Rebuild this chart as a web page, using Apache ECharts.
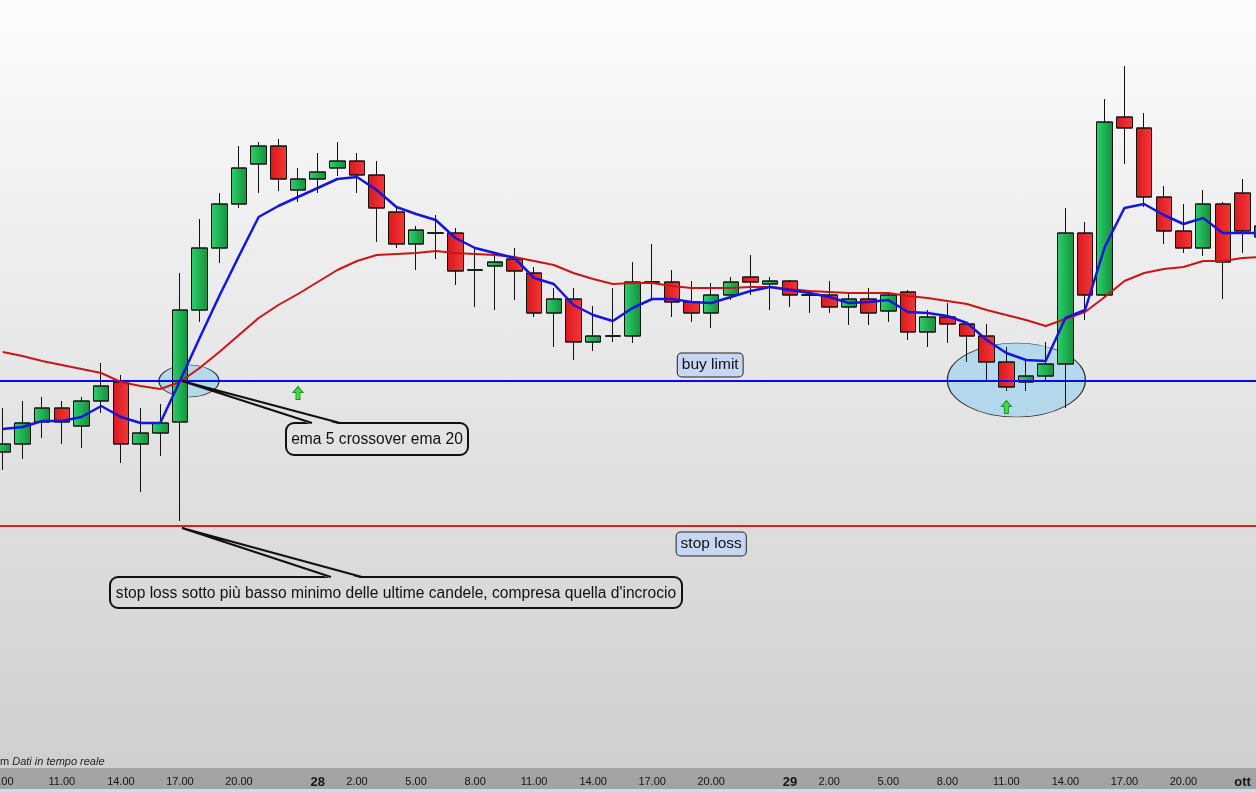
<!DOCTYPE html>
<html><head><meta charset="utf-8">
<script src="https://cdn.jsdelivr.net/npm/echarts/dist/echarts.min.js"></script>
<style>html,body{margin:0;padding:0;}#c{width:1256px;height:792px;background:linear-gradient(#fcfcfc 0px,#cfcfcf 768px);}</style>
</head><body><div id="c"></div>
<script>
// hourly candles, 27 ott 8.00 -> 30 ott 0.00 (price in points)
const categories = [];
for (let i = 0; i < 65; i++) { const t = 8 + i; categories.push((27 + Math.floor(t / 24)) + ' ' + (t % 24) + '.00'); }

const opens  = [348,356,378,392,374,399,418,356,367,378,490,552,596,636,654,610,621,632,639,625,588,556,567,567,530,534,541,527,487,501,458,464,464,518,518,498,487,505,523,516,519,505,505,493,501,489,508,468,483,476,464,438,418,424,436,567,505,683,672,603,569,552,596,607,574];
const closes = [356,377,392,378,399,414,356,367,377,490,552,596,632,654,621,621,628,639,625,592,556,570,567,529,530,538,529,487,501,458,464,464,518,518,498,487,505,518,518,519,505,505,493,501,487,505,468,483,476,464,438,413,424,436,567,505,678,672,603,569,552,596,538,569,563];
const lows   = [330,341,362,356,352,387,337,308,344,279,478,537,592,607,609,598,607,624,607,558,552,530,541,515,493,490,500,483,453,440,449,458,457,500,483,478,472,500,505,490,493,487,487,475,475,478,460,453,457,438,420,409,409,420,392,480,503,636,593,556,547,544,501,547,555];
const highs  = [392,399,403,399,403,437,425,392,396,527,581,607,654,658,661,632,647,658,647,639,592,574,585,572,552,545,552,533,512,512,494,512,538,556,530,519,517,523,545,523,520,510,519,508,512,508,510,490,497,478,476,453,440,458,592,578,701,734,687,614,596,610,598,621,580];
const ema5   = [371,373,379,379,383,394,383,377,377,419,462,504,544,583,594,603,612,621,623,610,593,586,580,562,552,547,542,522,516,495,485,479,492,501,501,498,497,503,509,513,510,507,503,497,498,500,488,487,484,477,460,447,440,439,482,490,553,592,596,585,576,582,567,567,567];
const ema20  = [448,444,439,435,431,427,418,414,411,418,432,448,465,482,495,506,518,530,539,545,546,547,549,547,546,545,543,539,535,527,521,516,517,517,514,512,512,512,513,513,511,509,508,507,507,507,504,502,499,496,490,485,480,474,481,488,503,519,527,531,533,539,539,542,543];

const buyLimit = 419;
const stopLoss = 274;

const tickCats  = ['27 8.00','27 11.00','27 14.00','27 17.00','27 20.00','28 0.00','28 2.00','28 5.00','28 8.00','28 11.00','28 14.00','28 17.00','28 20.00','29 0.00','29 2.00','29 5.00','29 8.00','29 11.00','29 14.00','29 17.00','29 20.00','29 23.00'];
const tickTexts = ['8.00','11.00','14.00','17.00','20.00','28','2.00','5.00','8.00','11.00','14.00','17.00','20.00','29','2.00','5.00','8.00','11.00','14.00','17.00','20.00','ott'];

const ohlc = opens.map((o, i) => [o, closes[i], lows[i], highs[i]]);

const FONT = 'Liberation Sans, Arial, sans-serif';
const chart = echarts.init(document.getElementById('c'), null, {renderer: 'canvas'});
const arrowPath = 'path://M5,0 L10,6 L7,6 L7,13 L3,13 L3,6 L0,6 Z';

const option = {
  animation: false,
  backgroundColor: 'transparent',
  grid: {left: -7, right: -16, top: 0, bottom: 24, containLabel: false, outerBoundsMode: 'none'},
  xAxis: {
    type: 'category', data: categories, boundaryGap: true, z: 10,
    axisLine: {show: false}, axisTick: {show: false}, splitLine: {show: false},
    axisLabel: {
      interval: 0, margin: 8, color: '#151515', fontSize: 11,
      fontFamily: "'Liberation Sans Narrow', 'Liberation Sans', Arial, sans-serif",
      formatter: function (v) {
        const k = tickCats.indexOf(v);
        if (k < 0) return '';
        const t = tickTexts[k];
        return /^[0-9]+$/.test(t) || t === 'ott' ? '{b|' + t + '}' : t;
      },
      rich: {b: {fontWeight: 'bold', fontSize: 13, color: '#151515', fontFamily: FONT}}
    }
  },
  yAxis: {type: 'value', min: 32, max: 800, show: false, splitLine: {show: false}},
  series: [
    {
      name: 'annotations', type: 'line', data: [], z: 1,
      markPoint: {
        z: 1, silent: true,
        data: [
          {coord: [categories[9], buyLimit], symbol: 'circle', symbolSize: [60, 32], symbolOffset: [9, 0],
           itemStyle: {color: 'rgba(170,213,236,0.85)', borderColor: '#333', borderWidth: 1}, label: {show: false}},
          {coord: [categories[51], buyLimit + 1], symbol: 'circle', symbolSize: [138, 74], symbolOffset: [10, 0],
           itemStyle: {color: 'rgba(170,213,236,0.85)', borderColor: '#333', borderWidth: 1}, label: {show: false}}
        ]
      }
    },
    {
      name: 'candles', type: 'candlestick', data: ohlc, barWidth: 16, z: 2,
      itemStyle: {
        color: new echarts.graphic.LinearGradient(0, 0, 1, 0, [{offset: 0, color: '#2fd06c'}, {offset: 1, color: '#12903c'}]),
        color0: new echarts.graphic.LinearGradient(0, 0, 1, 0, [{offset: 0, color: '#d8181c'}, {offset: 1, color: '#f5383a'}]),
        borderColor: '#111', borderColor0: '#111', borderWidth: 1
      },
      markLine: {
        silent: true, symbol: 'none', z: 3, label: {show: false},
        data: [
          {yAxis: buyLimit, lineStyle: {color: '#0b0be8', width: 2, type: 'solid'}},
          {yAxis: stopLoss, lineStyle: {color: '#dd1c1c', width: 2, type: 'solid'}}
        ]
      },
      markPoint: {
        silent: true, z: 6,
        data: [
          {coord: [categories[15], buyLimit - 12], symbol: arrowPath, symbolSize: [10, 13],
           itemStyle: {color: '#3ee03e', borderColor: '#1a8f1a', borderWidth: 1}, label: {show: false}},
          {coord: [categories[51], buyLimit - 26], symbol: arrowPath, symbolSize: [10, 13],
           itemStyle: {color: '#3ee03e', borderColor: '#1a8f1a', borderWidth: 1}, label: {show: false}},
          {coord: [categories[36], buyLimit], symbol: 'rect', symbolSize: 1, itemStyle: {color: 'transparent'},
           label: {show: true, position: 'inside', offset: [-1, -16], formatter: 'buy limit', fontSize: 15.5, fontFamily: FONT,
                   color: '#111', backgroundColor: '#c7d6f1', borderColor: '#222', borderWidth: 1, borderRadius: 4, padding: [4, 4, 3, 4]}},
          {coord: [categories[36], stopLoss], symbol: 'rect', symbolSize: 1, itemStyle: {color: 'transparent'},
           label: {show: true, position: 'inside', offset: [0, 18], formatter: 'stop loss', fontSize: 15.5, fontFamily: FONT,
                   color: '#111', backgroundColor: '#c7d6f1', borderColor: '#222', borderWidth: 1, borderRadius: 4, padding: [4, 4, 3, 4]}}
        ]
      }
    },
    {name: 'EMA 20', type: 'line', data: ema20, symbol: 'none', z: 3, smooth: false,
     lineStyle: {color: '#cc1515', width: 2}},
    {name: 'EMA 5', type: 'line', data: ema5, symbol: 'none', z: 4, smooth: false,
     lineStyle: {color: '#1515e2', width: 2.5}}
  ]
};
chart.setOption(option);

// callouts anchored to data points
const a1 = chart.convertToPixel({xAxisIndex: 0, yAxisIndex: 0}, [categories[9], buyLimit]);
const a2 = chart.convertToPixel({xAxisIndex: 0, yAxisIndex: 0}, [categories[9], stopLoss - 2]);
function callout(anchor, box, w1, w2, text, fill) {
  const top = box.y;
  return [
    {type: 'rect', z: 20, shape: {x: box.x, y: box.y, width: box.w, height: box.h, r: 8},
     style: {fill: fill, stroke: '#111', lineWidth: 2}},
    {type: 'polygon', z: 21, shape: {points: [[anchor[0] + 3, anchor[1]], [w1, top + 1.5], [w2, top + 1.5]]},
     style: {fill: fill, stroke: null}},
    {type: 'polyline', z: 22, shape: {points: [[w1, top], [anchor[0] + 2, anchor[1]], [w2, top]]},
     style: {stroke: '#111', lineWidth: 2, fill: null}},
    {type: 'text', z: 23, style: {x: box.x + box.w / 2, y: box.y + box.h / 2 + 1, text: text, align: 'center', verticalAlign: 'middle',
      font: '15.6px ' + FONT, fill: '#111'}}
  ];
}
const graphics = [
  {type: 'rect', z: -5, shape: {x: 0, y: 768, width: 1256, height: 21}, style: {fill: '#a3a3a3'}, silent: true},
  {type: 'rect', z: -5, shape: {x: 0, y: 789, width: 1256, height: 3}, style: {fill: '#bfe0ec'}, silent: true},
  {type: 'text', z: 30, style: {x: 0, y: 762, text: '{n|m }{i|Dati in tempo reale}', verticalAlign: 'middle',
    rich: {n: {font: '11px ' + FONT, fill: '#222'}, i: {font: 'italic 11px ' + FONT, fill: '#222'}}}}
].concat(
  callout(a1, {x: 286, y: 423, w: 182, h: 32}, 312, 340, 'ema 5 crossover ema 20', '#e3e3e3'),
  callout(a2, {x: 110, y: 577, w: 572, h: 31}, 331, 362, "stop loss sotto più basso minimo delle ultime candele, compresa quella d'incrocio", '#d9d9d9')
);
chart.setOption({graphic: graphics});
</script>
</body></html>
